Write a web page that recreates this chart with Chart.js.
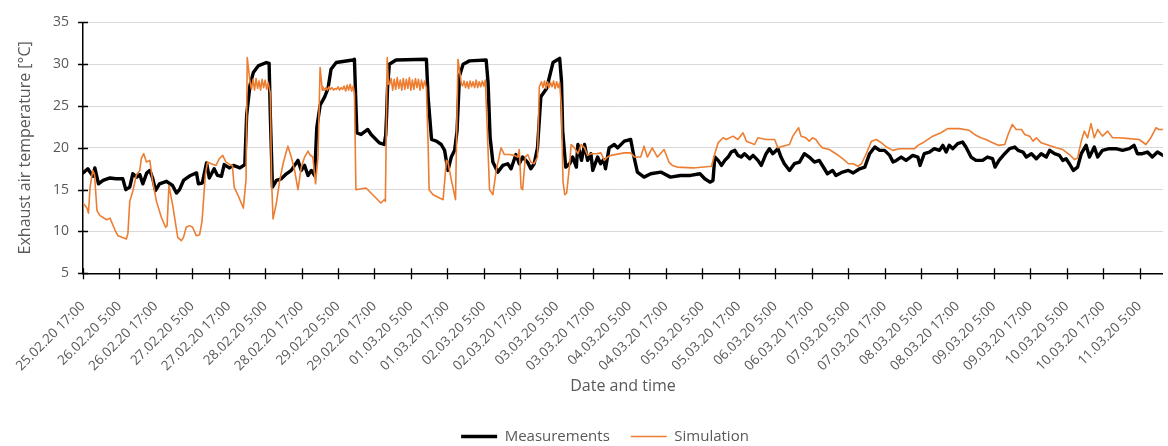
<!DOCTYPE html>
<html>
<head>
<meta charset="utf-8">
<title>Exhaust air temperature</title>
<script src="https://cdn.jsdelivr.net/npm/chart.js@4.4.1/dist/chart.umd.min.js"></script>
<style>
  html, body { margin: 0; padding: 0; background: #ffffff; }
  canvas { display: block; }
</style>
</head>
<body>
<canvas id="chart" width="1168" height="446"></canvas>
<script>
// Time axis: hours after 25.02.20 17:00, one labelled tick every 12 hours
const tickLabels = [
  '25.02.20 17:00', '26.02.20 5:00', '26.02.20 17:00', '27.02.20 5:00', '27.02.20 17:00',
  '28.02.20 5:00', '28.02.20 17:00', '29.02.20 5:00', '29.02.20 17:00', '01.03.20 5:00',
  '01.03.20 17:00', '02.03.20 5:00', '02.03.20 17:00', '03.03.20 5:00', '03.03.20 17:00',
  '04.03.20 5:00', '04.03.20 17:00', '05.03.20 5:00', '05.03.20 17:00', '06.03.20 5:00',
  '06.03.20 17:00', '07.03.20 5:00', '07.03.20 17:00', '08.03.20 5:00', '08.03.20 17:00',
  '09.03.20 5:00', '09.03.20 17:00', '10.03.20 5:00', '10.03.20 17:00', '11.03.20 5:00'
];
const tickStepHours = 12;
const lastHour = 355.7;

// Measured exhaust air temperature [hour, °C]
const measurements = [
  [0,17.0],[1.6,17.5],[2.3,17.1],[3.3,16.6],[3.9,17.6],[5.1,15.7],[6.6,16.1],[8.9,16.4],[10.8,16.3],[13.1,16.3],
  [14.1,15.0],[15.4,15.3],[16.4,16.9],[17.7,16.5],[18.7,16.8],[19.7,15.7],[21.0,17.0],[22.0,17.3],[23.0,16.3],[23.9,14.9],
  [25.2,15.7],[27.5,16.0],[29.5,15.5],[30.8,14.6],[31.8,15.0],[33.1,16.1],[35.4,16.7],[37.4,17.0],[38.0,15.7],[39.3,15.8],
  [40.7,18.2],[41.6,16.4],[43.2,17.5],[44.3,16.7],[45.6,16.6],[46.5,18.0],[48.2,17.6],[49.5,17.9],[51.7,17.6],[53.3,18.0],
  [53.9,23.9],[55.0,27.5],[56.1,29.0],[57.7,29.8],[60.4,30.2],[61.3,30.1],[61.7,23.9],[62.4,15.3],[63.7,16.1],[65.3,16.3],
  [67.0,16.9],[68.6,17.3],[69.7,17.9],[70.8,18.5],[71.9,17.3],[73.0,17.9],[74.1,16.7],[75.2,17.3],[76.3,16.7],[77.0,22.4],
  [78.1,25.1],[79.6,26.1],[80.7,27.1],[81.7,29.4],[83.4,30.2],[88.9,30.5],[89.4,30.6],[90.2,21.8],[91.6,21.6],[93.8,22.2],
  [94.9,21.6],[97.6,20.6],[99.2,20.4],[99.7,21.5],[100.0,23.9],[100.3,27.1],[100.9,30.0],[103.1,30.5],[113.1,30.6],[113.7,25.9],
  [114.8,21.0],[116.4,20.8],[118.0,20.4],[119.1,19.7],[120.2,17.3],[121.3,18.9],[122.4,19.7],[123.2,22.0],[124.0,28.6],[125.2,30.0],
  [127.3,30.4],[132.8,30.5],[133.4,27.9],[134.1,21.2],[135.0,18.3],[136.6,17.1],[138.3,17.9],[139.9,18.1],[141.0,17.5],[142.6,19.2],
  [143.7,18.1],[144.8,18.9],[146.4,18.3],[147.5,17.5],[148.6,18.1],[149.7,20.0],[150.8,26.1],[152.7,27.1],[154.8,30.2],[157.0,30.7],
  [157.6,28.0],[158.0,22.0],[159.0,17.7],[160.3,18.1],[161.3,18.9],[162.5,17.7],[163.0,20.4],[164.2,18.5],[165.2,20.4],[166.2,18.5],
  [167.3,19.3],[167.9,17.3],[169.5,18.9],[170.5,18.1],[171.5,18.6],[172.1,17.5],[173.3,20.0],[175.0,20.4],[176.1,20.0],[178.3,20.8],
  [180.4,21.0],[181.5,18.9],[182.6,17.1],[184.8,16.5],[187.0,16.9],[190.3,17.1],[193.5,16.5],[196.8,16.7],[200.1,16.7],[203.2,16.9],
  [204.8,16.3],[206.5,15.9],[207.5,16.1],[208.1,18.9],[209.2,18.5],[210.3,17.9],[211.4,18.5],[212.5,18.9],[213.5,19.5],[214.7,19.7],
  [215.7,19.1],[216.8,18.9],[217.9,19.3],[219.6,18.7],[220.7,19.1],[222.3,18.5],[223.4,17.9],[225.0,19.3],[226.1,19.9],[227.2,19.3],
  [228.9,19.9],[229.9,18.9],[231.0,18.1],[232.7,17.3],[234.3,18.1],[236.0,18.3],[237.6,19.3],[239.2,18.9],[240.9,18.3],[242.5,18.5],
  [244.2,17.5],[245.2,16.9],[246.9,17.3],[248.0,16.7],[250.2,17.1],[252.1,17.3],[253.7,17.0],[255.8,17.5],[257.5,17.7],[259.1,19.3],
  [260.8,20.1],[262.4,19.7],[264.0,19.7],[265.7,19.1],[266.8,18.3],[267.9,18.5],[269.5,18.9],[271.1,18.5],[273.3,19.1],[275.0,18.9],
  [275.7,17.9],[277.1,19.3],[278.8,19.5],[280.4,19.9],[282.1,19.7],[283.2,20.3],[284.3,19.5],[285.3,20.3],[286.5,19.9],[288.1,20.5],
  [289.7,20.7],[290.8,20.1],[292.5,18.9],[294.1,18.5],[296.3,18.5],[297.9,18.9],[299.6,18.7],[300.4,17.7],[301.7,18.5],[303.6,19.3],
  [305.2,19.9],[306.9,20.1],[308.0,19.7],[309.6,19.5],[310.7,18.9],[312.4,19.3],[314.0,18.7],[315.6,19.3],[317.3,18.9],[318.4,19.7],
  [320.0,19.3],[321.6,19.1],[322.7,18.5],[323.8,18.7],[324.9,18.1],[326.2,17.3],[327.6,17.7],[328.8,19.3],[330.4,20.3],[331.5,18.9],
  [333.1,20.1],[334.2,18.9],[335.8,19.7],[338.0,19.9],[340.2,19.9],[342.4,19.7],[344.6,19.9],[346.2,20.3],[347.3,19.3],[348.9,19.3],
  [350.6,19.5],[352.2,18.9],[353.9,19.5],[355.7,19.1]
];

// Simulated exhaust air temperature [hour, °C]
const simulation = [
  [0,13.4],[1.3,12.8],[1.8,12.2],[2.3,15.2],[3.2,17.3],[3.8,16.8],[4.6,12.5],[5.6,11.9],[7.8,11.4],[8.9,11.6],
  [10.5,10.2],[11.5,9.5],[14.3,9.1],[14.8,9.8],[15.4,13.6],[16.4,14.8],[17.6,16.8],[18.7,17.3],[19.2,18.7],[20.0,19.3],
  [20.9,18.3],[22.0,18.5],[22.9,16.1],[24.2,13.6],[25.8,11.7],[27.2,10.5],[27.7,10.7],[28.3,15.5],[29.6,13.0],[31.2,9.3],
  [32.4,8.9],[33.1,9.3],[34.0,10.5],[35.1,10.7],[36.1,10.5],[37.3,9.5],[38.4,9.6],[39.2,11.2],[40.3,16.8],[41.0,18.3],
  [42.2,18.1],[43.8,17.9],[44.9,18.7],[46.0,19.1],[47.1,18.3],[48.8,17.9],[49.2,17.9],[49.8,15.3],[51.1,14.3],[52.8,12.8],
  [53.7,16.2],[54.1,30.8],
  [55.0,27.9],[55.5,27.0],[56.0,28.2],[56.5,26.9],[57.0,28.3],[57.5,27.1],[58.0,28.0],[58.5,26.9],[59.0,28.2],[59.5,27.2],
  [60.0,28.1],[60.5,27.0],[61.0,27.8],
  [61.7,26.5],[62.1,16.2],[62.6,11.5],[63.7,13.4],[64.8,16.1],[65.9,18.1],[67.0,19.6],[67.5,20.2],[68.6,18.9],[69.7,17.3],
  [70.8,15.0],[71.9,17.7],[73.0,18.9],[74.1,19.6],[74.7,19.2],[75.7,18.9],[76.6,15.7],[77.4,18.9],[78.1,29.6],[78.8,26.9],
  [79.0,27.3],[79.5,26.9],[80.0,27.2],[80.5,26.9],[81.0,27.3],[81.5,27.0],[82.0,27.2],[82.5,26.9],[83.0,27.1],[83.5,27.0],
  [84.0,27.3],[84.5,26.9],[85.0,27.2],[85.5,27.0],[86.0,27.4],[86.5,26.8],[87.0,27.5],[87.5,26.9],[88.0,27.6],[88.5,26.8],
  [89.0,27.4],
  [89.4,26.5],[89.9,15.0],[93.2,15.2],[96.5,14.0],[98.1,13.4],[99.2,13.8],[99.6,13.6],[100.2,30.8],[100.6,27.6],
  [101.0,27.6],[101.5,28.3],[102.0,26.9],[102.5,28.2],[103.0,27.0],[103.5,28.4],[104.0,27.1],[104.5,28.1],[105.0,26.9],[105.5,28.3],
  [106.0,27.0],[106.5,28.2],[107.0,27.1],[107.5,28.4],[108.0,26.9],[108.5,28.1],[109.0,27.0],[109.5,28.3],[110.0,27.2],[110.5,28.2],
  [111.0,26.9],[111.5,28.1],[112.0,27.1],[112.5,28.0],
  [113.1,27.2],[113.7,20.0],[114.0,15.0],[115.3,14.4],[118.6,13.8],[119.7,18.5],[120.2,18.3],[121.3,16.2],[122.7,13.8],[123.5,30.6],
  [124.6,27.7],
  [125.0,27.4],[125.5,28.0],[126.0,27.2],[126.5,27.9],[127.0,27.1],[127.5,28.0],[128.0,27.3],[128.5,27.9],[129.0,27.2],[129.5,28.1],
  [130.0,27.2],[130.5,27.9],[131.0,27.3],[131.5,28.0],[132.0,27.4],[132.5,28.1],
  [133.3,20.8],[133.9,15.0],[135.0,14.4],[136.1,17.3],[137.7,20.0],[138.8,19.2],[140.4,19.2],[142.1,19.1],[143.2,18.9],[143.7,19.8],
  [144.3,15.2],[144.8,15.0],[145.7,18.9],[146.5,19.2],[147.5,18.3],[148.6,18.1],[149.7,18.9],[150.3,27.3],
  [150.5,27.3],[151.0,27.9],[151.5,27.2],[152.0,28.0],[152.5,27.1],[153.0,27.9],[153.5,27.2],[154.0,27.8],[154.5,27.3],[155.0,28.0],
  [155.5,27.1],[156.0,27.9],[156.5,27.2],[157.0,27.8],
  [157.6,24.7],[158.1,16.0],[158.7,14.4],[159.3,14.6],[160.2,17.7],[160.8,20.4],[161.9,20.0],[163.0,19.3],[164.1,20.4],[165.2,20.0],
  [166.2,19.1],[167.3,19.3],[169.0,19.3],[170.6,19.4],[171.7,18.5],[172.8,18.9],[173.9,19.1],[178.3,19.4],[180.4,19.4],[181.6,18.9],
  [183.7,18.9],[184.8,20.2],[185.9,18.9],[187.5,20.0],[189.2,18.9],[191.4,19.8],[193.0,18.3],[194.1,17.9],[195.7,17.7],[201.0,17.6],
  [207.0,17.8],[208.1,19.3],[209.2,20.6],[210.8,21.2],[211.9,21.0],[214.1,21.4],[215.7,21.0],[217.4,21.8],[218.5,20.8],[221.2,20.4],
  [222.3,21.2],[225.0,21.0],[227.8,21.0],[228.9,20.0],[230.5,20.2],[232.7,20.4],[233.8,21.4],[235.7,22.4],[236.5,21.4],[238.1,21.2],
  [239.2,20.8],[240.3,21.2],[241.4,21.0],[242.5,20.4],[243.6,20.0],[245.8,19.8],[248.0,19.3],[250.2,18.7],[252.1,18.1],[253.7,18.1],
  [255.3,17.8],[256.4,18.1],[258.0,19.3],[259.7,20.8],[261.3,21.0],[263.0,20.6],[264.6,20.1],[266.8,19.7],[268.9,19.9],[272.2,19.9],
  [273.9,19.9],[275.0,20.3],[276.6,20.6],[279.9,21.4],[282.6,21.8],[284.8,22.3],[288.6,22.3],[291.9,22.1],[294.1,21.5],[295.7,21.2],
  [297.4,21.0],[299.6,20.6],[301.5,20.3],[303.6,20.4],[304.7,21.6],[306.1,22.8],[307.4,22.2],[309.1,22.2],[310.2,21.6],[311.8,21.4],
  [312.9,20.8],[314.0,21.2],[315.6,20.6],[317.3,20.4],[320.6,20.0],[322.7,19.8],[324.9,19.2],[326.6,18.6],[327.6,18.8],[328.8,20.8],
  [329.8,22.0],[330.9,21.2],[332.0,22.9],[333.1,21.2],[334.2,22.2],[335.8,21.4],[337.5,22.0],[339.1,21.2],[341.3,21.2],[344.6,21.1],
  [347.9,21.0],[350.1,20.4],[351.7,21.2],[353.4,22.4],[354.4,22.2],[355.7,22.2]
];

const textGrey = '#595959';
Chart.defaults.font.family = "'Open Sans', 'Noto Sans', sans-serif";
Chart.defaults.color = textGrey;

const toPoints = rows => rows.map(([x, y]) => ({ x, y }));

// Short tick marks that cross both axis lines
const crossTicks = {
  id: 'crossTicks',
  afterDraw(chart) {
    const { ctx, chartArea, scales: { x, y } } = chart;
    ctx.save();
    ctx.strokeStyle = '#000000';
    ctx.lineWidth = 1.3;
    ctx.beginPath();
    x.ticks.forEach(t => {
      const px = Math.round(x.getPixelForValue(t.value)) + 0.5;
      ctx.moveTo(px, chartArea.bottom - 5);
      ctx.lineTo(px, chartArea.bottom + 6);
    });
    y.ticks.forEach(t => {
      const py = Math.round(y.getPixelForValue(t.value)) + 0.5;
      ctx.moveTo(chartArea.left - 5, py);
      ctx.lineTo(chartArea.left + 5, py);
    });
    ctx.stroke();
    ctx.restore();
  }
};

// Centre the legend under the plot area rather than the whole canvas
const legendOffset = {
  id: 'legendOffset',
  afterLayout(chart) {
    const lg = chart.legend;
    if (lg) { lg.left += 21; lg.right += 21; }
  }
};

new Chart(document.getElementById('chart'), {
  type: 'line',
  data: {
    datasets: [
      {
        label: 'Measurements',
        data: toPoints(measurements),
        borderColor: '#000000',
        backgroundColor: '#000000',
        borderWidth: 3.4,
        borderJoinStyle: 'round',
        borderCapStyle: 'round',
        pointRadius: 0,
        tension: 0,
        order: 2
      },
      {
        label: 'Simulation',
        data: toPoints(simulation),
        borderColor: '#ED7D31',
        backgroundColor: '#ED7D31',
        borderWidth: 1.6,
        borderJoinStyle: 'round',
        pointRadius: 0,
        tension: 0,
        order: 1
      }
    ]
  },
  options: {
    responsive: false,
    animation: false,
    events: [],
    layout: { padding: { top: 17, right: 0, bottom: -8, left: 0 } },
    plugins: {
      tooltip: { enabled: false },
      legend: {
        position: 'bottom',
        labels: {
          usePointStyle: true,
          pointStyle: 'line',
          pointStyleWidth: 36,
          padding: 21,
          color: textGrey,
          font: { size: 15 },
          sort: (a, b) => a.datasetIndex - b.datasetIndex
        }
      }
    },
    scales: {
      x: {
        type: 'linear',
        min: 0,
        max: lastHour,
        afterBuildTicks: scale => {
          scale.ticks = tickLabels.map((_, i) => ({ value: i * tickStepHours }));
        },
        afterFit: scale => { scale.height = 134.7; },
        grid: { display: false },
        border: { display: true, color: '#000000', width: 1.5 },
        ticks: {
          autoSkip: false,
          minRotation: 45,
          maxRotation: 45,
          padding: 17,
          color: textGrey,
          font: { size: 13.5 },
          callback: value => tickLabels[Math.round(value / tickStepHours)]
        },
        title: {
          display: true,
          text: 'Date and time',
          color: textGrey,
          font: { size: 16 },
          padding: { top: 0, bottom: 12 }
        }
      },
      y: {
        min: 5,
        max: 35,
        afterFit: scale => { scale.width = 83; },
        grid: { color: '#d9d9d9', lineWidth: 1, drawTicks: false },
        border: { display: true, color: '#000000', width: 1.5 },
        ticks: {
          stepSize: 5,
          padding: 14,
          color: textGrey,
          font: { size: 14 }
        },
        title: {
          display: true,
          text: 'Exhaust air temperature [°C]',
          color: textGrey,
          font: { size: 16 },
          padding: { top: 16, bottom: 0 }
        }
      }
    }
  },
  plugins: [crossTicks, legendOffset]
});
</script>
</body>
</html>
